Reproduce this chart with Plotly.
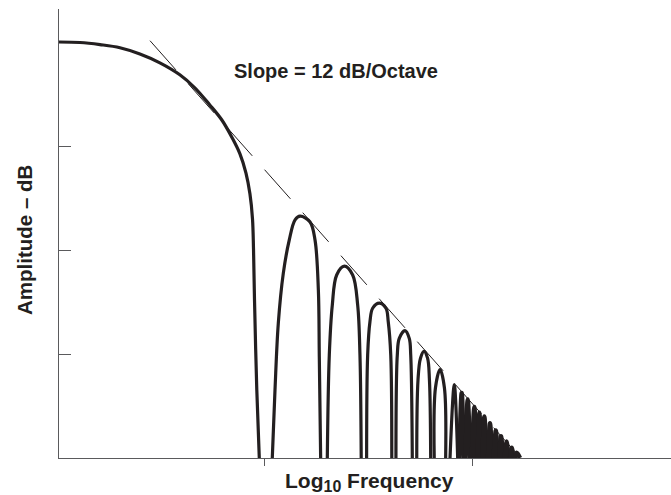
import plotly.graph_objects as go

# ---- data (x = log10 frequency, y = amplitude in dB) ----
main_lobe_x = [-0.990, -0.888, -0.792, -0.696, -0.600, -0.504, -0.408, -0.336, -0.264,
               -0.206, -0.158, -0.119, -0.090, -0.071, -0.0587, -0.0538, -0.049, -0.038, -0.026]
main_lobe_y = [0.0, -0.1, -0.5, -1.1, -2.3, -4.0, -6.3, -8.8, -12.1,
               -15.0, -18.3, -21.5, -25.2, -29.2, -34.0, -39.8, -49.6, -66.9, -80.0]

# wide side lobes (feet, shoulders, peak)
side_lobes_x = [
    [0.0365, 0.0495, 0.0654, 0.0894, 0.118, 0.146, 0.170, 0.218, 0.242, 0.258, 0.2625, 0.269],
    [0.301, 0.3106, 0.325, 0.346, 0.383, 0.423, 0.447, 0.458, 0.464],
    [0.490, 0.495, 0.506, 0.519, 0.551, 0.583, 0.594, 0.606, 0.611],
    [0.631, 0.6375, 0.647, 0.6745, 0.695, 0.702, 0.7096],
    [0.731, 0.737, 0.749, 0.766, 0.783, 0.792, 0.798],
    [0.815, 0.821, 0.843, 0.864, 0.870],
]
side_lobes_y = [
    [-80, -66.9, -54.1, -44.5, -38.1, -34.2, -33.5, -34.6, -38.1, -47.7, -60.5, -80],
    [-80, -60.2, -50.6, -44.8, -43.1, -44.8, -50.6, -60.2, -80],
    [-80, -60.2, -53.8, -51.2, -50.2, -51.2, -53.8, -60.2, -80],
    [-80, -60.2, -57.0, -55.5, -57.0, -60.2, -80],
    [-80, -65.0, -60.8, -59.5, -60.8, -65.0, -80],
    [-80, -66.5, -63.0, -66.5, -80],
]

# lobe 7 (still open) and the narrow, dense lobes: left foot, peak, right foot
lobe7_x = [0.891, 0.9115, 0.9277]
lobe7_y = [-80.0, -65.9, -80.0]
dense_left_x = [0.9357, 0.9658, 0.9957, 1.0238, 1.0477, 1.0737, 1.1011, 1.1276, 1.154, 1.1795, 1.2035]
dense_peak_x = [0.947, 0.976, 1.008, 1.032, 1.056, 1.083, 1.111, 1.136, 1.163, 1.1875, 1.2115]
dense_peak_y = [-67.5, -68.75, -70.2, -71.3, -72.0, -73.3, -74.7, -75.8, -76.8, -78.0, -79.0]
dense_right_x = [0.9575, 0.9878, 1.0157, 1.0398, 1.0657, 1.0931, 1.1196, 1.146, 1.1715, 1.1955, 1.2274]
floor_db = -80.0

# 12 dB/octave envelope
slope_line_x = [-0.5514, 1.2303]
slope_line_y = [0.25, -80.0]

slope_label = "Slope = 12 dB/Octave"
y_title = "Amplitude \u2013 dB"

# ---- build the curves: segments separated by gaps ----
cx, cy = list(main_lobe_x), list(main_lobe_y)
for lx, ly in zip(side_lobes_x, side_lobes_y):
    cx += [None] + lx
    cy += [None] + ly
cx += [None] + lobe7_x
cy += [None] + lobe7_y

dx, dy = [], []
for l, p, py, r in zip(dense_left_x, dense_peak_x, dense_peak_y, dense_right_x):
    dx += [l, p, r, None]
    dy += [floor_db, py, floor_db, None]

ink = "#231f20"
axis_col = "#5a5a5c"
font = "Liberation Sans, Arial, Helvetica, sans-serif"

fig = go.Figure()
fig.add_trace(go.Scatter(x=slope_line_x, y=slope_line_y, mode="lines",
                         line=dict(color=ink, width=1, dash="39px,18.5px"),
                         hoverinfo="skip"))
fig.add_trace(go.Scatter(x=cx, y=cy, mode="lines", connectgaps=False,
                         line=dict(color=ink, width=3.2, shape="spline", smoothing=1),
                         hoverinfo="skip"))
fig.add_trace(go.Scatter(x=dx, y=dy, mode="lines", connectgaps=False,
                         line=dict(color=ink, width=4.4, shape="spline", smoothing=1),
                         hoverinfo="skip"))

fig.update_layout(
    width=671, height=495,
    margin=dict(l=59, r=0, t=9, b=37),
    paper_bgcolor="white", plot_bgcolor="white",
    showlegend=False,
    xaxis=dict(range=[-0.98894, 1.95337], showline=True, linecolor=axis_col, linewidth=1.2,
               ticks="outside", ticklen=7, tickwidth=1.2, tickcolor=axis_col,
               tickvals=[0, 1], showticklabels=False, showgrid=False, zeroline=False),
    yaxis=dict(range=[-80, 6.346], showline=True, linecolor=axis_col, linewidth=1.2,
               ticks="inside", ticklen=12, tickwidth=1.2, tickcolor=axis_col,
               tickvals=[-60, -40, -20], showticklabels=False, showgrid=False, zeroline=False),
    annotations=[
        dict(text="<b>%s</b>" % slope_label, x=-0.1587, y=-5.63, xref="x", yref="y",
             xanchor="left", yanchor="middle", showarrow=False,
             font=dict(family=font, size=20, color=ink)),
        dict(text='<b>Log<sub><span style="font-size:16px">10</span></sub> Frequency</b>',
             x=0.508, y=-0.054, xref="paper", yref="paper",
             xanchor="center", yanchor="middle", showarrow=False,
             font=dict(family=font, size=21, color=ink)),
        dict(text="<b>%s</b>" % y_title, x=-0.0572, y=0.4855, xref="paper", yref="paper",
             xanchor="center", yanchor="middle", textangle=-90, showarrow=False,
             font=dict(family=font, size=20.5, color=ink)),
    ],
)

fig.write_html("out.html", config={"displayModeBar": False},
               post_script="document.body.style.margin='0';document.body.style.overflow='hidden';")
